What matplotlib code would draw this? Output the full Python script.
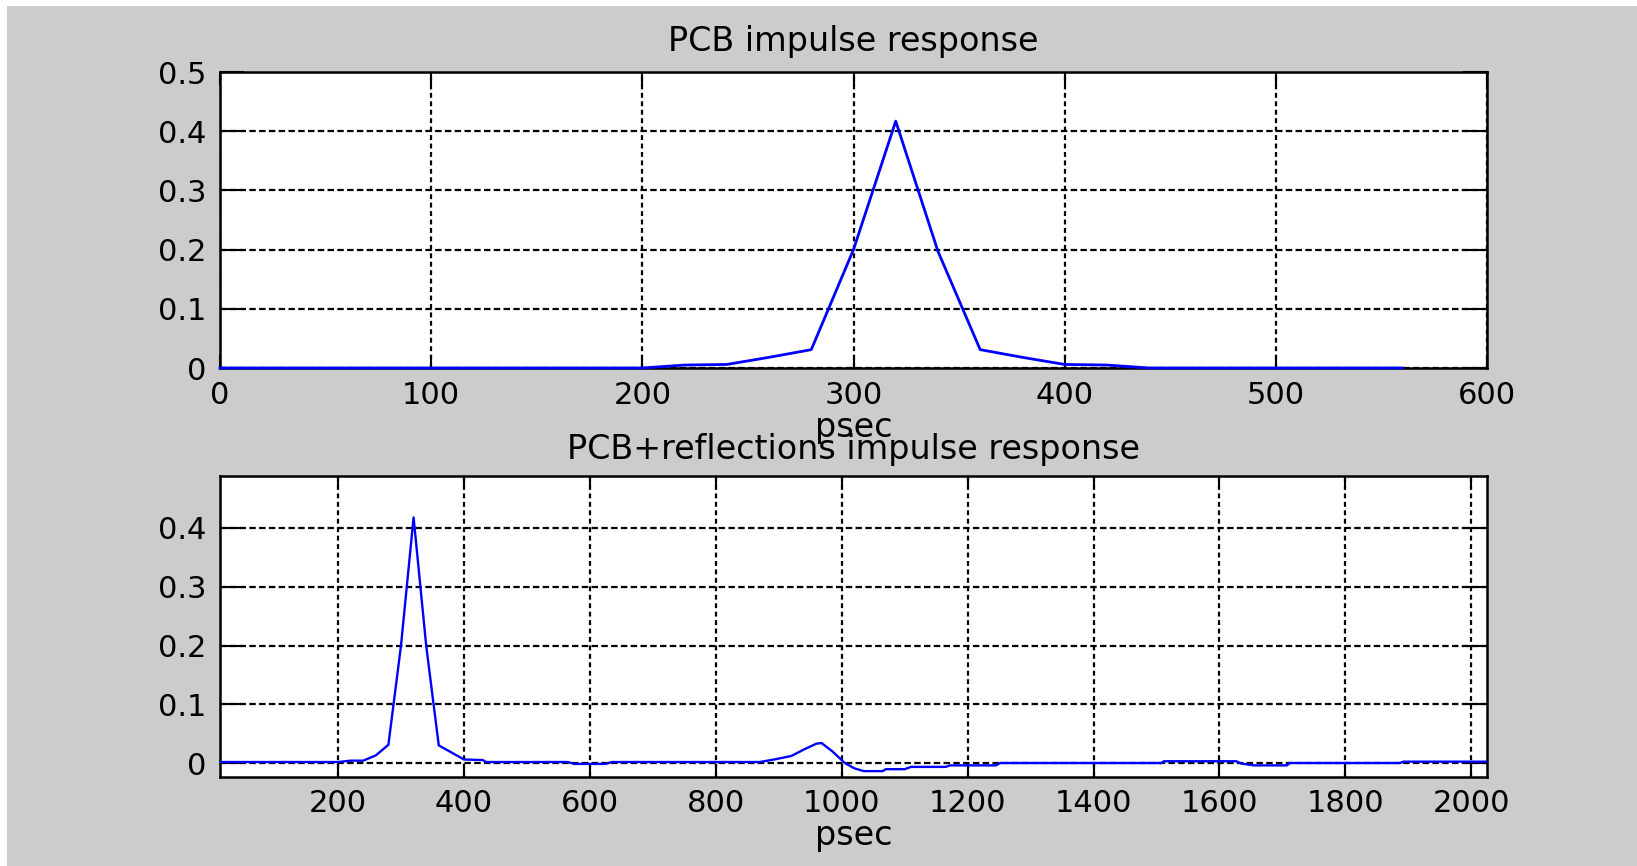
import matplotlib
matplotlib.use("Agg")
import matplotlib.pyplot as plt
from matplotlib.patches import Rectangle

# ---------------- data ----------------
top_title = "PCB impulse response"
bottom_title = "PCB+reflections impulse response"
x_label = "psec"

top_t = [0, 20, 40, 60, 80, 100, 120, 140, 160, 180, 200, 220, 240, 260, 280,
         300, 320, 340, 360, 380, 400, 420, 440, 460, 480, 500, 520, 540, 560]
top_v = [0, 0, 0, 0, 0, 0, 0, 0, 0, 0, 0, 0.005, 0.006, 0.018, 0.031,
         0.2, 0.417, 0.197, 0.031, 0.018, 0.006, 0.005, 0, 0, 0, 0, 0, 0, 0]

bot_t = [12.5, 200, 220, 240, 260, 280, 300, 320, 340, 360, 380, 400, 430, 435,
         565, 575, 625, 635, 870, 895, 920, 940, 960, 968, 985, 1005, 1020, 1035,
         1065, 1070, 1100, 1110, 1165, 1172, 1245, 1252, 1508, 1512, 1627, 1635,
         1655, 1707, 1712, 1887, 1892, 2025]
bot_v = [0.0017, 0.0017, 0.004, 0.004, 0.013, 0.031, 0.2, 0.418, 0.2, 0.03,
         0.018, 0.006, 0.005, 0.0017, 0.0017, -0.0015, -0.0015, 0.0017, 0.0017,
         0.0065, 0.012, 0.023, 0.033, 0.034, 0.02, 0.0, -0.009, -0.0138, -0.0138,
         -0.0105, -0.0105, -0.0066, -0.0066, -0.004, -0.004, 0.0, 0.0, 0.003,
         0.003, -0.001, -0.004, -0.004, 0.0, 0.0, 0.0023, 0.0023]

top_xticks = [0, 100, 200, 300, 400, 500, 600]
top_xticklabels = ["0", "100", "200", "300", "400", "500", "600"]
top_yticks = [0, 0.1, 0.2, 0.3, 0.4, 0.5]
top_yticklabels = ["0", "0.1", "0.2", "0.3", "0.4", "0.5"]

bot_xticks = [200, 400, 600, 800, 1000, 1200, 1400, 1600, 1800, 2000]
bot_xticklabels = ["200", "400", "600", "800", "1000", "1200", "1400", "1600", "1800", "2000"]
bot_yticks = [0, 0.1, 0.2, 0.3, 0.4]
bot_yticklabels = ["0", "0.1", "0.2", "0.3", "0.4"]

# ---------------- figure ----------------
W, H = 1637, 866
FS = 22
FS_T = 24
plt.rcParams["font.family"] = ["DejaVu Sans"]

fig = plt.figure(figsize=(W / 100, H / 100), dpi=100, facecolor="white")
fig.patches.append(Rectangle((7 / W, 0), 1, (H - 6) / H, transform=fig.transFigure,
                             facecolor="#cccccc", edgecolor="none", zorder=-10))


def px_axes(left, top, right, bottom):
    return fig.add_axes([left / W, (H - bottom) / H, (right - left) / W, (bottom - top) / H])


def style(ax, xticks, xlabels, yticks, ylabels):
    ax.set_facecolor("white")
    for s in ax.spines.values():
        s.set_linewidth(1.8)
        s.set_color("black")
    ax.set_xticks(xticks)
    ax.set_xticklabels(xlabels)
    ax.set_yticks(yticks)
    ax.set_yticklabels(ylabels)
    ax.tick_params(axis="both", direction="in", top=True, right=True, width=1.5,
                   labelsize=FS, colors="black")
    ax.tick_params(axis="x", length=9.4, pad=9)
    ax.tick_params(axis="y", length=17, pad=10)
    ax.xaxis.grid(True, color="black", linewidth=1.6, linestyle=(0, (2.2, 1.6)))
    ax.yaxis.grid(True, color="black", linewidth=1.6, linestyle=(0, (2.9, 1.5)))
    ax.set_axisbelow(True)


# top axes
ax1 = px_axes(220, 72, 1487, 368)
ax1.plot(top_t, top_v, color=(0, 0, 1), linewidth=2.0, zorder=3, clip_on=False)
ax1.set_xlim(0, 600)
ax1.set_ylim(0, 0.5)
style(ax1, top_xticks, top_xticklabels, top_yticks, top_yticklabels)
ax1.text(0.5, (368 - 42) / 296, top_title, transform=ax1.transAxes, ha="center",
         va="center", fontsize=FS_T, color="black")
ax1.set_xlabel(x_label, fontsize=FS_T, color="black")
ax1.xaxis.label.set_va("center")
ax1.xaxis.set_label_coords(0.5, (368 - 427) / 296)

# bottom axes
ax2 = px_axes(220, 476, 1487, 777)
ax2.plot(bot_t, bot_v, color=(0, 0, 1), linewidth=1.7, zorder=3)
ax2.set_xlim(12.5, 2025)
ax2.set_ylim(-0.0238, 0.4885)
style(ax2, bot_xticks, bot_xticklabels, bot_yticks, bot_yticklabels)
ax2.text(0.5, (777 - 449) / 301, bottom_title, transform=ax2.transAxes, ha="center",
         va="center", fontsize=FS_T, color="black")
ax2.set_xlabel(x_label, fontsize=FS_T, color="black")
ax2.xaxis.label.set_va("center")
ax2.xaxis.set_label_coords(0.5, (777 - 835) / 301)

fig.savefig("out.png", dpi=100, facecolor=fig.get_facecolor())
